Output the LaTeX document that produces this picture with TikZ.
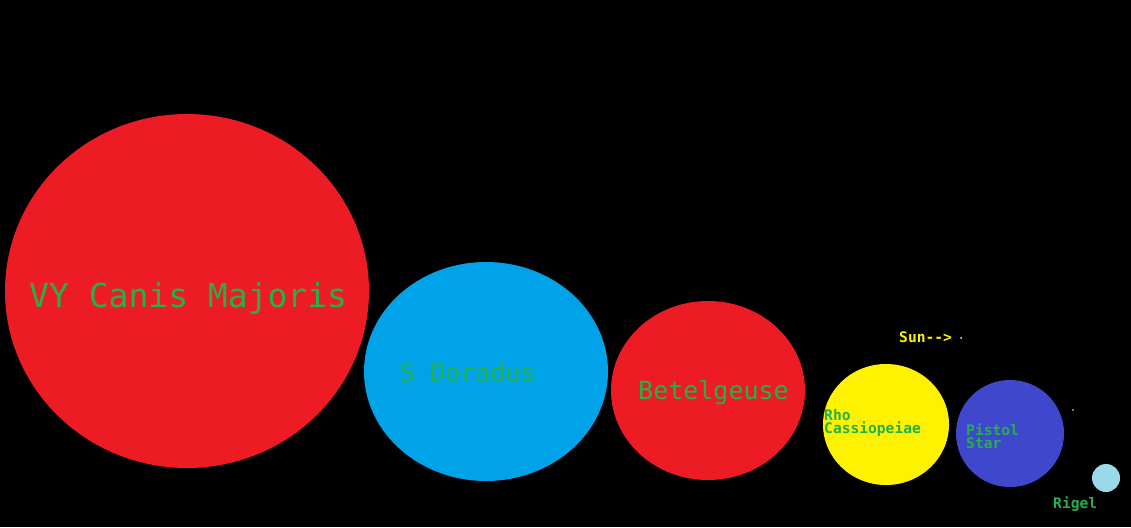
\documentclass[tikz,border=0pt]{standalone}
\usepackage{fontspec}
\setmonofont{DejaVu Sans Mono}
\definecolor{pred}{HTML}{ED1C24}
\definecolor{pblue}{HTML}{00A2E8}
\definecolor{pyellow}{HTML}{FFF200}
\definecolor{pindigo}{HTML}{3F48CC}
\definecolor{plblue}{HTML}{99D9EA}
\definecolor{pgreen}{HTML}{22B14C}
\begin{document}
\begin{tikzpicture}[x=1pt,y=-1pt,
  lbl/.style={anchor=base west,inner sep=0pt,text=pgreen,font=\ttfamily},
  lblsmall/.style={lbl,font=\ttfamily\bfseries\fontsize{14.6}{13}\selectfont,align=left}]
\fill[black] (0,0) rectangle (1131,527);
\useasboundingbox (0,0) rectangle (1131,527);
\fill[pred] (187,291) ellipse [x radius=182, y radius=177];
\fill[pblue] (486,371.5) ellipse [x radius=122, y radius=109.5];
\fill[pred] (708,390.5) ellipse [x radius=97, y radius=89.5];
\fill[pyellow] (886,424.5) ellipse [x radius=63, y radius=60.5];
\fill[pindigo] (1010,433.5) ellipse [x radius=54, y radius=53.5];
\fill[plblue] (1106,478) circle [radius=14];
\fill[white!80!yellow] (961,338) circle [radius=1];
\fill[white!80!yellow] (1073,410) circle [radius=0.8];
\node[lbl,font=\ttfamily\fontsize{33}{33}\selectfont] (vy) at (29,307.5) {VY Canis Majoris};
\node[lbl,font=\ttfamily\fontsize{25}{25}\selectfont] (sd) at (400,381) {S Doradus};
\node[lbl,font=\ttfamily\fontsize{25}{25}\selectfont] (bg) at (638,399) {Betelgeuse};
\node[lblsmall] (rho) at (824,433.5) {Rho\\Cassiopeiae};
\node[lblsmall] (ps) at (966,448.5) {Pistol\\Star};
\node[lblsmall] (rg) at (1053,508) {Rigel};
\node[lblsmall,text=pyellow] (sun) at (899,342) {Sun-->};
\end{tikzpicture}
\end{document}
